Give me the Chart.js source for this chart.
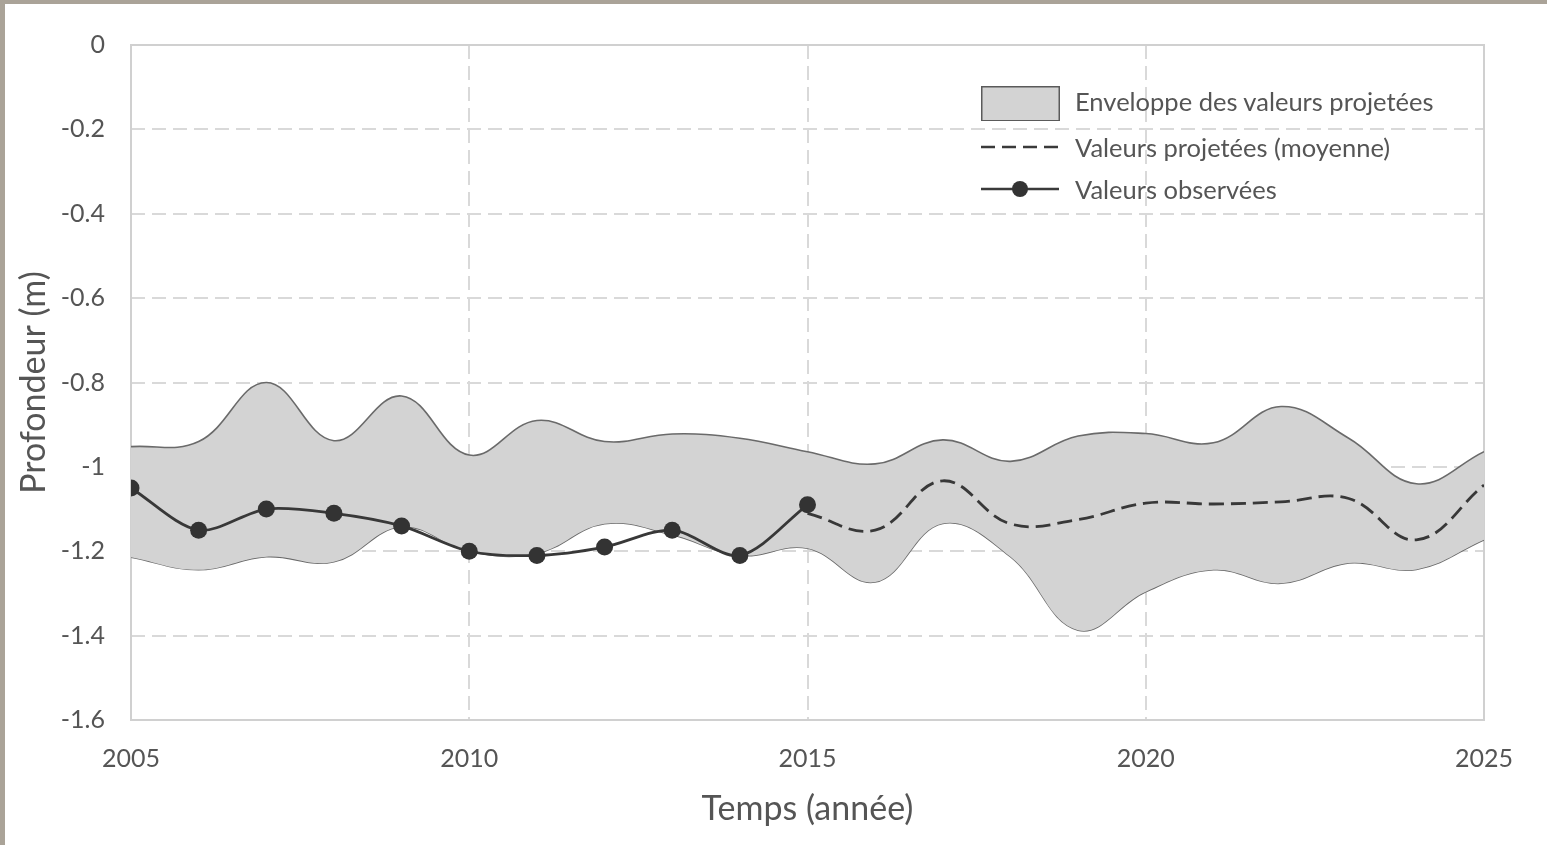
<!DOCTYPE html>
<html>
<head>
<meta charset="utf-8">
<script src="https://cdn.jsdelivr.net/npm/chart.js@4"></script>
<style>
  html, body { margin: 0; padding: 0; background: #fff; overflow: hidden; }
  #wrap { position: relative; width: 1547px; height: 845px; }
  #chart { position: absolute; left: 0; top: 0; }
  .edge { position: absolute; background: #aaa398; }
  .legend { position: absolute; left: 981px; top: 80px; font-family: Lato, sans-serif;
            font-size: 25.5px; color: #555; }
  .legend .row { position: absolute; left: 0; height: 40px; width: 520px; }
  .legend .row span { position: absolute; left: 94px; top: 50%; transform: translateY(-50%); white-space: nowrap; }
  .legend svg { position: absolute; left: 0; top: 0; }
</style>
</head>
<body>
<div id="wrap">
  <canvas id="chart" width="1547" height="845"></canvas>
  <div class="edge" style="left:0;top:0;width:5px;height:845px"></div>
  <div class="edge" style="left:0;top:0;width:1547px;height:4px"></div>
  <div class="legend">
    <div class="row" style="top:1px">
      <svg width="80" height="40"><rect x="0.75" y="5.75" width="77.5" height="34" fill="#d3d3d3" stroke="#5a5a5a" stroke-width="1.5"/></svg>
      <span>Enveloppe des valeurs projetées</span>
    </div>
    <div class="row" style="top:47px">
      <svg width="80" height="40"><line x1="0" y1="20" x2="78" y2="20" stroke="#3a3a3a" stroke-width="2.5" stroke-dasharray="14,7"/></svg>
      <span>Valeurs projetées (moyenne)</span>
    </div>
    <div class="row" style="top:89px">
      <svg width="80" height="40"><line x1="0" y1="20" x2="78" y2="20" stroke="#3a3a3a" stroke-width="2.5"/><circle cx="39" cy="20" r="8" fill="#333"/></svg>
      <span>Valeurs observées</span>
    </div>
  </div>
</div>
<script>
// ---- data ----
const yearsObs = [2005, 2006, 2007, 2008, 2009, 2010, 2011, 2012, 2013, 2014, 2015];
const observed = [-1.05, -1.15, -1.10, -1.11, -1.14, -1.20, -1.21, -1.19, -1.15, -1.21, -1.09];

const yearsProj = [2015, 2016, 2017, 2018, 2019, 2020, 2021, 2022, 2023, 2024, 2025];
const projMean = [-1.11, -1.15, -1.033, -1.135, -1.125, -1.086, -1.088, -1.083, -1.075, -1.173, -1.043];

const yearsEnv = [2005, 2006, 2007, 2008, 2009, 2010, 2011, 2012, 2013, 2014, 2015,
                  2016, 2017, 2018, 2019, 2020, 2021, 2022, 2023, 2024, 2025];
const envUpper = [-0.952, -0.94, -0.80, -0.938, -0.832, -0.972, -0.89, -0.94, -0.922, -0.932, -0.964,
                  -0.993, -0.936, -0.987, -0.927, -0.921, -0.943, -0.857, -0.932, -1.04, -0.964];
const envLower = [-1.214, -1.244, -1.213, -1.225, -1.142, -1.20, -1.205, -1.135, -1.161, -1.21, -1.193,
                  -1.273, -1.134, -1.213, -1.387, -1.296, -1.244, -1.276, -1.228, -1.243, -1.173];

const xTicks = [2005, 2010, 2015, 2020, 2025];
const yTicks = [0, -0.2, -0.4, -0.6, -0.8, -1, -1.2, -1.4, -1.6];

const pts = (xs, ys) => xs.map((x, i) => ({ x: x, y: ys[i] }));

const textColor = '#555';
const gridColor = '#d9d9d9';

// solid frame around the plot area
const plotFrame = {
  id: 'plotFrame',
  beforeDatasetsDraw(chart) {
    const { ctx, chartArea: a } = chart;
    ctx.save();
    ctx.strokeStyle = '#d0d0d0';
    ctx.lineWidth = 2;
    ctx.strokeRect(a.left, a.top, a.right - a.left, a.bottom - a.top);
    ctx.restore();
  }
};

new Chart(document.getElementById('chart').getContext('2d'), {
  type: 'line',
  data: {
    datasets: [
      {
        label: 'Valeurs observées',
        data: pts(yearsObs, observed),
        borderColor: '#383838',
        backgroundColor: '#333',
        borderWidth: 2.8,
        tension: 0.3,
        pointRadius: 8.5,
        pointBorderWidth: 0,
        fill: false
      },
      {
        label: 'Valeurs projetées (moyenne)',
        data: pts(yearsProj, projMean),
        borderColor: '#383838',
        borderWidth: 2.8,
        borderDash: [15, 7],
        tension: 0.4,
        pointRadius: 0,
        fill: false
      },
      {
        label: 'Enveloppe haute',
        data: pts(yearsEnv, envUpper),
        borderColor: '#6a6a6a',
        borderWidth: 1.6,
        backgroundColor: '#d3d3d3',
        tension: 0.4,
        pointRadius: 0,
        fill: '+1'
      },
      {
        label: 'Enveloppe basse',
        data: pts(yearsEnv, envLower),
        borderColor: '#6a6a6a',
        borderWidth: 1.6,
        tension: 0.4,
        pointRadius: 0,
        fill: false
      }
    ]
  },
  options: {
    responsive: false,
    animation: false,
    layout: { padding: { left: 0, top: 45, right: 63, bottom: 0 } },
    plugins: {
      legend: { display: false },
      tooltip: { enabled: false }
    },
    scales: {
      x: {
        type: 'linear',
        min: 2005,
        max: 2025,
        afterBuildTicks: s => { s.ticks = xTicks.map(v => ({ value: v })); },
        afterFit: s => { s.height = 125; },
        grid: {
          color: ctx => (ctx.tick && (ctx.tick.value === 2005 || ctx.tick.value === 2025)) ? 'rgba(0,0,0,0)' : gridColor,
          lineWidth: 2,
          drawTicks: false
        },
        border: { display: false, dash: [14, 7] },
        ticks: {
          color: textColor,
          font: { family: 'Lato', size: 25 },
          padding: 24,
          maxRotation: 0,
          callback: v => String(v)
        },
        title: {
          display: true,
          text: 'Temps (année)',
          color: textColor,
          font: { family: 'Lato', size: 34 },
          padding: { top: 0, bottom: 16 }
        }
      },
      y: {
        min: -1.6,
        max: 0,
        afterBuildTicks: s => { s.ticks = yTicks.map(v => ({ value: v })); },
        afterFit: s => { s.width = 131; },
        grid: {
          color: ctx => (ctx.tick && (ctx.tick.value === 0 || ctx.tick.value === -1.6)) ? 'rgba(0,0,0,0)' : gridColor,
          lineWidth: 2,
          drawTicks: false
        },
        border: { display: false, dash: [14, 7] },
        ticks: {
          color: textColor,
          font: { family: 'Lato', size: 25 },
          padding: 26,
          callback: v => String(Math.round(v * 10) / 10)
        },
        title: {
          display: true,
          text: 'Profondeur (m)',
          color: textColor,
          font: { family: 'Lato', size: 34 },
          padding: { top: 14, bottom: 0 }
        }
      }
    }
  },
  plugins: [plotFrame]
});
</script>
</body>
</html>
